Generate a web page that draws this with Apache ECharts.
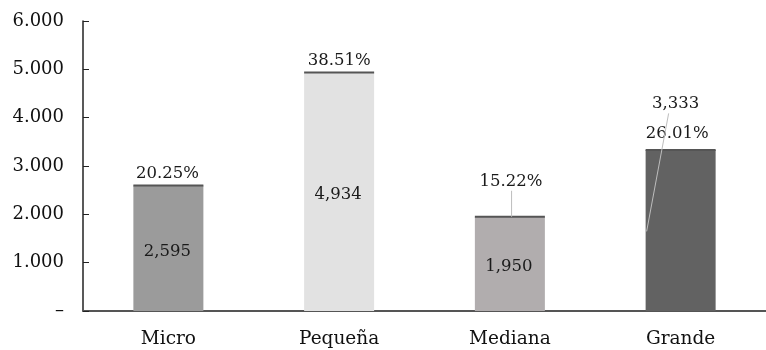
<!DOCTYPE html>
<html>
<head>
<meta charset="utf-8">
<script src="https://cdn.jsdelivr.net/npm/echarts@6/dist/echarts.min.js"></script>
<style>
  html, body { margin: 0; padding: 0; background: #fff; }
  #chart { width: 766px; height: 350px; }
</style>
</head>
<body>
<div id="chart"></div>
<script>
// Firms by size class: count and share of total
const categories = ['Micro', 'Pequeña', 'Mediana', 'Grande'];
const firms = [2595, 4934, 1950, 3333];
const shares = ['20.25%', '38.51%', '15.22%', '26.01%'];
const yTicks = [0, 1000, 2000, 3000, 4000, 5000, 6000];
const barColors = ['#9b9b9b', '#e2e2e2', '#b1adae', '#626262'];

const FONT = 'DejaVu Serif';
const BAR_RATIO = 0.41;
const LABEL_SIZE = 16.5;

// Placement of the share labels relative to each bar's top (pixels)
const shareLabelPos = [
  { dx: -1, dy: -12 },
  { dx: 0, dy: -12 },
  { dx: 1, dy: -35 },
  { dx: -3.5, dy: -16.5 }
];
// Leader lines, as pixel offsets from each bar's top centre
const leaders = [
  null,
  null,
  { x1: 1.7, y1: 0, x2: 1.7, y2: -26 },
  { x1: -34, y1: 81.5, x2: -12, y2: -36.5 }
];

const thousands = (v, sep) => String(v).replace(/\B(?=(\d{3})+(?!\d))/g, sep);

const chart = echarts.init(document.getElementById('chart'), null, { renderer: 'canvas' });

chart.setOption({
  animation: false,
  backgroundColor: '#fff',
  grid: { left: 83, right: -3, top: 21, bottom: 39 },
  xAxis: {
    type: 'category',
    data: categories,
    axisLine: { show: true, lineStyle: { color: '#555', width: 2 } },
    axisTick: { show: false },
    axisLabel: { fontFamily: FONT, fontSize: 18.5, color: '#111', margin: 19 }
  },
  yAxis: {
    type: 'value',
    min: yTicks[0],
    max: yTicks[yTicks.length - 1],
    interval: yTicks[1] - yTicks[0],
    splitLine: { show: false },
    axisLine: { show: true, lineStyle: { color: '#222', width: 1.5 } },
    axisTick: { show: true, inside: true, length: 6, lineStyle: { color: '#222', width: 1 } },
    axisLabel: {
      fontFamily: FONT, fontSize: 18, color: '#111', margin: 19,
      formatter: v => (v === 0 ? '–' : thousands(v, '.'))
    }
  },
  series: [
    {
      type: 'bar',
      barWidth: (BAR_RATIO * 100) + '%',
      data: firms.map((v, i) => {
        const item = { value: v, itemStyle: { color: barColors[i] } };
        if (i === 3) {
          item.label = { position: 'top', offset: [-5, -33] };
        }
        return item;
      }),
      label: {
        show: true,
        position: 'inside',
        offset: [-1, 3],
        fontFamily: FONT,
        fontSize: LABEL_SIZE,
        color: '#1a1a1a',
        formatter: p => thousands(p.value, ',')
      },
      z: 2
    },
    {
      // top edge line, share label and leader line for each bar
      type: 'custom',
      data: firms.map((v, i) => [i, v]),
      z: 3,
      renderItem: (params, api) => {
        const i = params.dataIndex;
        const top = api.coord([api.value(0), api.value(1)]);
        const bw = api.size([1, 0])[0] * BAR_RATIO;
        const children = [
          {
            type: 'line',
            shape: { x1: top[0] - bw / 2, y1: top[1], x2: top[0] + bw / 2, y2: top[1] },
            style: { stroke: '#555', lineWidth: 2 }
          },
          {
            type: 'text',
            x: top[0] + shareLabelPos[i].dx,
            y: top[1] + shareLabelPos[i].dy,
            style: {
              text: shares[i],
              font: LABEL_SIZE + 'px "' + FONT + '"',
              fill: '#1a1a1a',
              align: 'center',
              verticalAlign: 'middle'
            }
          }
        ];
        const ld = leaders[i];
        if (ld) {
          children.push({
            type: 'line',
            shape: { x1: top[0] + ld.x1, y1: top[1] + ld.y1, x2: top[0] + ld.x2, y2: top[1] + ld.y2 },
            style: { stroke: '#bdbdbd', lineWidth: 1 }
          });
        }
        return { type: 'group', children };
      }
    }
  ]
});
</script>
</body>
</html>
